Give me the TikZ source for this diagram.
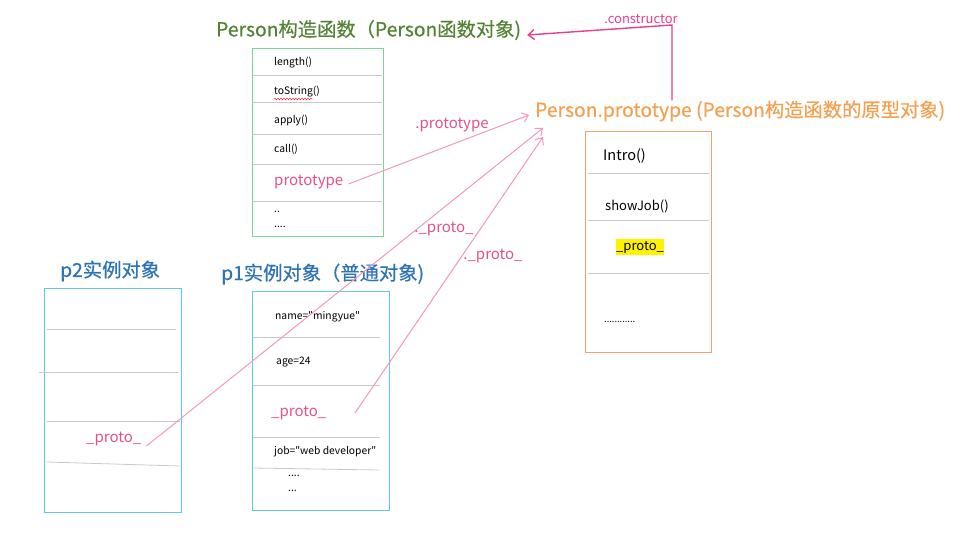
\documentclass[tikz,border=0pt]{standalone}
\usepackage{fontspec}
\setmainfont{Noto Sans CJK SC}[Ligatures=TeXOff]
\newfontfamily\titlefont{Noto Sans CJK SC}[FakeBold=0.5]
\usepackage{xcolor}
\usetikzlibrary{arrows.meta,decorations.pathmorphing}
\definecolor{fngreen}{RGB}{84,130,53}
\definecolor{fnbord}{RGB}{120,214,150}
\definecolor{ptorange}{RGB}{244,160,80}
\definecolor{ptbord}{RGB}{244,160,110}
\definecolor{objblue}{RGB}{46,116,181}
\definecolor{objbord}{RGB}{95,200,232}
\definecolor{linkpink}{RGB}{245,150,190}
\definecolor{txtpink}{RGB}{232,80,138}
\definecolor{ctorpink}{RGB}{232,62,140}
\definecolor{rowgray}{RGB}{200,200,200}

\tikzset{
  title/.style={anchor=west,inner sep=0pt,font=\titlefont\fontsize{19.3}{22}\selectfont},
  item/.style={anchor=west,inner sep=0pt,font=\fontsize{10.3}{12}\selectfont},
  pinkitem/.style={anchor=west,inner sep=0pt,text=txtpink,font=\fontsize{15}{17}\selectfont},
  linklabel/.style={inner sep=0pt,text=txtpink,font=\fontsize{15}{17}\selectfont},
  link/.style={->,linkpink,line width=1pt},
  row/.style={rowgray,line width=0.8pt}
}

\begin{document}
\begin{tikzpicture}[x=1pt,y=-1pt,>={Straight Barb[length=6pt,width=10pt]}]
\useasboundingbox (0,0) rectangle (979,535);

% titles
\node[title,text=fngreen] (fntitle) at (216,30) {Person构造函数（Person函数对象)};
\node[title,text=ptorange] (pttitle) at (535,111) {Person.prototype (Person构造函数的原型对象)};
\node[title,text=objblue] (p2title) at (60,271) {p2实例对象};
\node[title,text=objblue] (p1title) at (221,274) {p1实例对象（普通对象)};

% Person function box
\draw[fnbord,line width=0.8pt] (252,48) rectangle (383,236);
\foreach \y in {75,102,134,164,201}
  \draw[row] (253,\y) -- (382,\y);
\node[item] (fnlen) at (274,63) {length()};
\node[item] (fnstr) at (274,92) {toString()};
\draw[red,decorate,decoration={snake,amplitude=0.8pt,segment length=3pt}] (274,99) -- (313,99);
\node[item] (fnapply) at (274,120) {apply()};
\node[item] (fncall) at (274,149) {call()};
\node[pinkitem] (fnproto) at (274,182) {prototype};
\node[item] (fndots) at (274,212) {..};
\node[item] (fndotsb) at (274,227) {....};

% prototype box
\draw[ptbord,line width=1pt] (585,131) rectangle (711,352);
\foreach \y in {173,220,273}
  \draw[row] (588,\y) -- (709,\y);
\node[item,font=\fontsize{14.5}{17}\selectfont] (ptintro) at (603,156) {Intro()};
\node[item,font=\fontsize{13}{15}\selectfont] (ptjob) at (605,206) {showJob()};
\node[item,fill=yellow,inner ysep=2pt,font=\fontsize{13}{15}\selectfont] (ptproto) at (616,247) {\_proto\_};
\node[item,font=\fontsize{9.3}{11}\selectfont] (ptdots) at (604,322) {............};

% p2 box
\draw[objbord,line width=0.8pt] (44,288) rectangle (181,512);
\draw[row] (47,329) -- (176,329);
\draw[row] (39,372) -- (178,372);
\draw[row] (47,421) -- (180,421);
\draw[row] (47,462) -- (180,466);
\node[pinkitem] (p2proto) at (86,439) {\_proto\_};

% p1 box
\draw[objbord,line width=0.8pt] (252,291) rectangle (389,510);
\foreach \y in {337,385,437}
  \draw[row] (253,\y) -- (380,\y);
\draw[row] (253,468) -- (379,470);
\node[item] (p1name) at (275,317) {name="mingyue"};
\node[item] (p1age) at (276,362) {age=24};
\node[pinkitem] (p1proto) at (271,413) {\_proto\_};
\node[item] (p1job) at (274,452) {job="web developer"};
\node[item] (p1dots) at (288,476) {....};
\node[item] (p1dotsb) at (288,491) {...};

% links
\coordinate (tipfn) at (529,115);
\coordinate (tipp2) at (543,128);
\coordinate (tipp1) at (543,137);
\coordinate (fromp1) at (355,413);
\coordinate (ctorturn) at (672,25);
\draw[link] ([xshift=5pt,yshift=-2pt]fnproto.east) -- (tipfn);
\draw[link] ([xshift=5pt,yshift=-7pt]p2proto.east) -- (tipp2);
\draw[link] (fromp1) -- (tipp1);
\node[linklabel] (lblfn) at (452,125) {.prototype};
\node[linklabel] (lblp2) at (444,229) {.\_proto\_};
\node[linklabel] (lblp1) at (493,256) {.\_proto\_};

\draw[->,ctorpink,line width=1.4pt] (pttitle.north -| ctorturn) -- (ctorturn) -- ([xshift=6pt,yshift=-5pt]fntitle.east);
\node[inner sep=0pt,text=ctorpink,font=\fontsize{13}{15}\selectfont] (lblctor) at (641,19) {.constructor};
\end{tikzpicture}
\end{document}
